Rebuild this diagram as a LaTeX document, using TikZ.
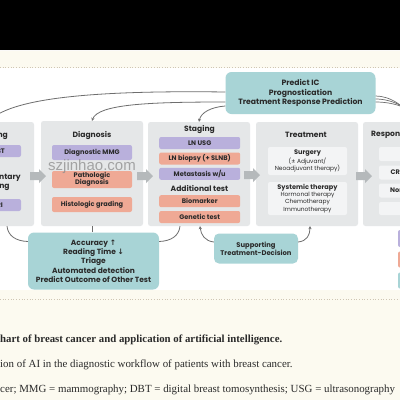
\documentclass[tikz,border=0pt]{standalone}
\usepackage{fontspec}
\setmainfont{Liberation Serif}
\setsansfont{Poppins}
\newfontfamily\symfont{DejaVu Sans}
\newfontfamily\wmfont{Liberation Sans}
\usetikzlibrary{arrows.meta}
\definecolor{cream}{HTML}{FCFAF0}
\definecolor{dotc}{HTML}{CFC6B4}
\definecolor{panelg}{HTML}{E5E7E8}
\definecolor{innerw}{HTML}{F3F4F5}
\definecolor{purp}{HTML}{B9B0DC}
\definecolor{salm}{HTML}{EFA995}
\definecolor{teal}{HTML}{A8D4D6}
\definecolor{arrg}{HTML}{B5B9BB}
\definecolor{lineg}{HTML}{6E6E6E}
\definecolor{txt}{HTML}{2A2A2A}
\tikzset{
  panelbox/.style={fill=panelg, rounded corners=2.5pt, inner sep=0pt, minimum width=102, minimum height=104},
  boxbase/.style={rounded corners=2pt, inner sep=0pt, minimum width=81, minimum height=12, align=center,
    text=txt, font=\sffamily\bfseries\fontsize{6.6}{7.4}\selectfont},
  pbox/.style={boxbase, fill=purp},
  sbox/.style={boxbase, fill=salm},
  wbox/.style={boxbase, fill=innerw, font=\sffamily\fontsize{5.9}{7.2}\selectfont},
  tbox/.style={rounded corners=6pt, fill=teal, inner sep=0pt, align=center, text=txt,
    font=\sffamily\bfseries\fontsize{7.5}{9.3}\selectfont},
  ttl/.style={inner sep=0pt, text=txt, font=\sffamily\bfseries\fontsize{7.6}{9}\selectfont},
  plaintxt/.style={inner sep=0pt, text=txt, font=\sffamily\bfseries\fontsize{6.6}{7.4}\selectfont},
  conn/.style={draw=lineg, line width=0.8pt},
  tiparrow/.style={-{Stealth[length=3pt,width=3.2pt]}},
  dotline/.style={draw=dotc, line width=0.7pt, dotted},
  captxt/.style={inner sep=0pt, anchor=base west, text=txt},
  barrow/.pic={\fill[arrg] (0,-4) -- (9,-4) -- (9,-7) -- (16,0) -- (9,7) -- (9,4) -- (0,4) -- cycle;}
}
\begin{document}
\begin{tikzpicture}[x=1pt,y=-1pt]
\useasboundingbox (0,0) rectangle (400,400);
\clip (0,0) rectangle (400,400);
% backgrounds
\fill[black] (0,0) rectangle (400,50);
\fill[cream] (0,50) rectangle (400,68);
\draw[white!90!dotc, line width=0.8pt] (0,50.5) -- (400,50.5);
\draw[dotline] (0,67) -- (400,67);
\fill[white] (0,68) rectangle (400,290);
\fill[cream] (0,290) rectangle (400,400);
\draw[dotline] (0,299) -- (400,299);

% panels
\node[panelbox] (scr) at (-17,174) {};
\node[panelbox, minimum height=105] (diag) at (92,173.5) {};
\node[panelbox] (stag) at (199,174) {};
\node[panelbox] (treat) at (307,174) {};
\node[panelbox] (resp) at (414,174) {};

% block arrows
\pic at (30,176) {barrow};
\pic at (137,176) {barrow};
\pic at (244,175) {barrow};
\pic at (356,176) {barrow};

% screening
\node[ttl, anchor=east] (scrt) at (8,135) {Screening};
\node[pbox] (scrb1) at (-19.5,151) {};
\node[plaintxt, anchor=east] (scrb1t) at (5,151) {DBT};
\node[ttl, align=center] (scrs) at (-10,182) {Supplementary\\screening};
\node[pbox] (scrb2) at (-19.5,205) {};
\node[plaintxt, anchor=east] (scrb2t) at (3,205) {MRI};

% diagnosis
\node[ttl] (diagt) at (92,135) {Diagnosis};
\node[pbox, minimum width=80, minimum height=15] (dmmg) at (92,152.5) {Diagnostic MMG};
\node[sbox, minimum width=80, minimum height=17] (path) at (92,179.5) {Pathologic\\Diagnosis};
\node[sbox, minimum width=80, minimum height=15] (histo) at (92,204.5) {Histologic grading};

% staging
\node[ttl] (stagt) at (199.5,129) {Staging};
\node[pbox] (lnusg) at (199.7,143) {LN USG};
\node[sbox] (lnb) at (199.7,158.5) {LN biopsy (+ SLNB)};
\node[pbox] (meta) at (199.7,173.8) {Metastasis w/u};
\node[ttl] (addt) at (199.5,188.3) {Additional test};
\node[sbox] (bio) at (199.7,201.2) {Biomarker};
\node[sbox] (gen) at (199.7,217) {Genetic test};

% treatment
\node[ttl] (treatt) at (306,135) {Treatment};
\node[wbox, minimum width=79, minimum height=28] (surg) at (307.5,161)
  {{\bfseries\fontsize{6.6}{7.3}\selectfont Surgery}\\(± Adjuvant/\\Neoadjuvant therapy)};
\node[wbox, minimum width=79, minimum height=33] (syst) at (307.5,198.5)
  {{\bfseries\fontsize{6.6}{7.3}\selectfont Systemic therapy}\\Hormonal therapy\\Chemotherapy\\Immunotherapy};

% response
\node[ttl, anchor=west] (respt) at (371,135) {Response};
\node[wbox, minimum height=14] (r1) at (419.5,154) {};
\node[wbox, minimum height=14] (r2) at (419.5,172.5) {};
\node[plaintxt, anchor=west] (r2t) at (390.5,172.5) {CR};
\node[wbox, minimum height=14] (r3) at (419.5,190.5) {};
\node[plaintxt, anchor=west] (r3t) at (390,190.5) {Non-CR};
\node[wbox, minimum height=13] (r4) at (419.5,208.5) {};

% legend boxes at right edge
\node[pbox, minimum width=44, minimum height=17] (leg1) at (420,238.5) {};
\node[sbox, minimum width=44, minimum height=16] (leg2) at (420,259.5) {};
\node[tbox, rounded corners=2pt, minimum width=44, minimum height=16] (leg3) at (420,280.5) {};

% AI boxes
\node[tbox, font=\sffamily\bfseries\fontsize{7.7}{9.2}\selectfont, minimum width=150, minimum height=42] (ai1) at (300.5,93)
  {Predict IC\\Prognostication\\Treatment Response Prediction};
\node[tbox, minimum width=131, minimum height=57] (ai2) at (93.5,261)
  {Accuracy {\symfont\bfseries ↑}\\Reading Time {\symfont\bfseries ↓}\\Triage\\Automated detection\\Predict Outcome of Other Test};
\node[tbox, font=\sffamily\bfseries\fontsize{6.8}{8.3}\selectfont, rounded corners=5pt, minimum width=84, minimum height=30] (ai3) at (256,248.5)
  {Supporting\\Treatment-Decision};

% top connectors
\coordinate (scrtop) at (-12,122);
\draw[conn, tiparrow] ([yshift=1pt]ai1.west) .. controls (80,90) and (10,100) .. (scrtop);
\draw[conn, tiparrow] ([yshift=-9pt]ai1.west) .. controls (150,102) and (98,104) .. (diag.north);
\draw[conn, tiparrow] ([yshift=-13pt]ai1.west) .. controls (212,107) and (201,112) .. (stag.north);
\coordinate (re1) at (414,122);
\coordinate (re2) at (417,122);
\coordinate (re3) at (420,122);
\draw[conn, line width=0.7pt] ([yshift=-3pt]ai1.east) .. controls (390,96) and (406,106) .. (re1);
\draw[conn, line width=0.7pt] ([yshift=-6pt]ai1.east) .. controls (390,99) and (409,106) .. (re2);
\draw[conn, line width=0.7pt] ([yshift=-9pt]ai1.east) .. controls (390,102) and (412,106) .. (re3);

% bottom connectors
\draw[conn] (diag.south) -- (diag.south |- ai2.north);
\draw[conn] ([xshift=24pt]scr.south) .. controls (8,236) and (16,241) .. ([yshift=19.5pt]ai2.west);
\draw[conn] ([xshift=-19pt]stag.south) .. controls (179,236) and (171,241) .. ([yshift=19.5pt]ai2.east);
\draw[conn, tiparrow] ([yshift=6.5pt]ai3.west) .. controls (205,241) and (201,235) .. ([xshift=1pt]stag.south);
\draw[conn, tiparrow] ([yshift=6.5pt]ai3.east) .. controls (307,241) and (310,235) .. ([xshift=3pt]treat.south);

% watermark
\node[inner sep=0pt, text=black!45, opacity=0.75, font=\wmfont\fontsize{15}{15}\selectfont] (wm) at (92,167) {szjinhao.com};

% caption
\node[captxt, font=\rmfamily\bfseries\fontsize{10.8}{12}\selectfont] (cap1) at (0,342)
  {\llap{Flowc}hart of breast cancer and application of artificial intelligence.};
\node[captxt, font=\rmfamily\fontsize{10.9}{12}\selectfont] (cap2) at (0,367)
  {\llap{Applicat}ion of AI in the diagnostic workflow of patients with breast cancer.};
\node[captxt, font=\rmfamily\fontsize{10.9}{12}\selectfont] (cap3) at (0,392)
  {\llap{BC = breast can}cer; MMG = mammography; DBT = digital breast tomosynthesis; USG = ultrasonography};
\end{tikzpicture}
\end{document}
